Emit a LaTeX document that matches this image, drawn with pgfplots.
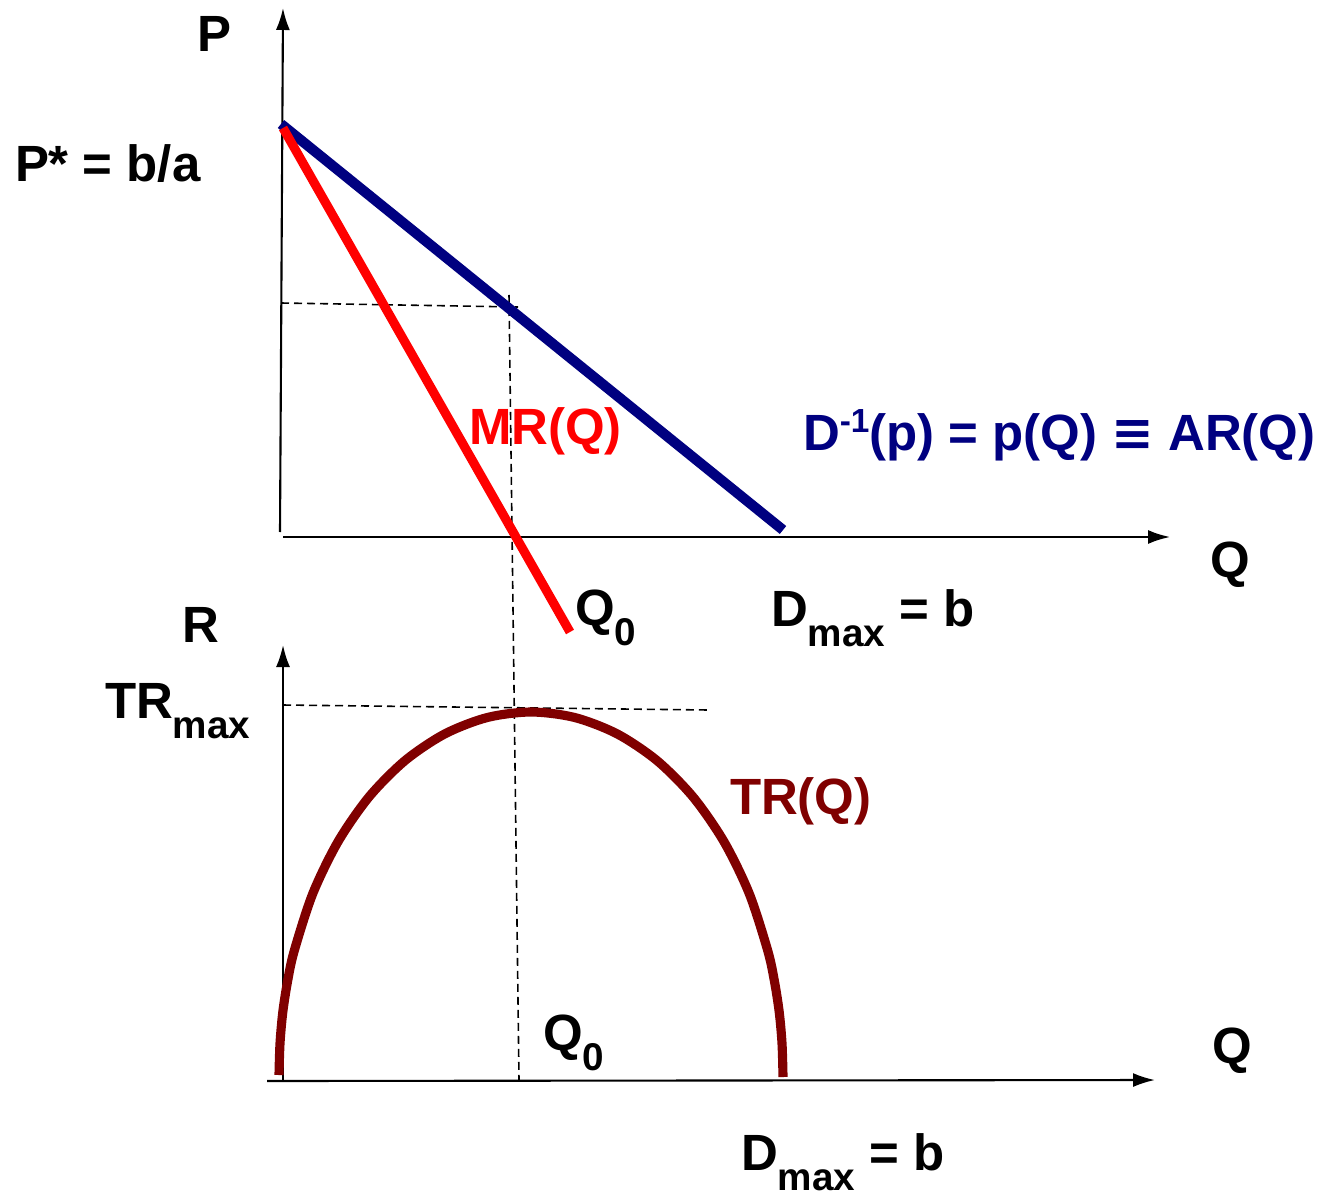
\documentclass[border=0pt]{standalone}
\usepackage{pgfplots}
\pgfplotsset{compat=1.18}
\usepackage{fontspec}
\setmainfont{Liberation Sans}
\newfontfamily\symfont{DejaVu Sans}
\usetikzlibrary{arrows.meta}

\definecolor{demandblue}{RGB}{0,0,128}
\definecolor{mrred}{RGB}{255,0,0}
\definecolor{trred}{RGB}{128,0,0}

\newcommand{\lbl}{\fontsize{14.5}{16}\selectfont\bfseries}
\newcommand{\sub}[1]{\raisebox{-5.7pt}{\fontsize{11}{12}\selectfont #1}}
\newcommand{\sups}[1]{\raisebox{5.3pt}{\fontsize{9.5}{10}\selectfont #1}}
\tikzset{lab/.style={inner sep=0pt, outer sep=0pt, anchor=base west}}

% Total revenue TR(Q), sampled along the arc
\pgfplotstableread{
x y
279.0 1075.0
280.0 1043.4
282.8 1012.0
287.6 981.1
294.2 950.9
312.8 893.5
338.0 841.7
369.0 796.9
405.0 760.6
444.8 733.9
487.3 717.5
531.0 712.0
574.7 717.5
617.2 733.9
657.0 760.6
693.0 796.9
724.0 841.7
749.2 893.5
767.8 950.9
774.4 981.1
779.2 1012.0
782.0 1043.4
783.0 1077.0
}\trcurve

\begin{document}
\begin{tikzpicture}
\begin{axis}[
  scale only axis,
  width=13.26cm, height=11.93cm,
  xmin=0, xmax=1326, ymin=0, ymax=1193,
  y dir=reverse,
  hide axis,
  clip=false,
]
\path (rel axis cs:0,0) rectangle (rel axis cs:1,1);

% upper panel: price axes
\addplot[black, line width=0.6pt, -{Latex[length=2.2mm,width=1.4mm]}] coordinates {(280,532) (283,8)};
\addplot[black, line width=0.6pt, -{Latex[length=2.2mm,width=1.4mm]}] coordinates {(283,537) (1170,537)};

% guide lines
\addplot[black, line width=0.45pt, dash pattern=on 0.8mm off 0.5mm] coordinates {(281,303) (518,307)};
\addplot[black, line width=0.45pt, dash pattern=on 0.8mm off 0.5mm] coordinates {(509,295) (519,1080)};
\addplot[black, line width=0.45pt, dash pattern=on 0.8mm off 0.5mm] coordinates {(283,705) (708,710)};

% demand (average revenue) and marginal revenue
\addplot[demandblue, line width=2.9pt] coordinates {(281,124) (783,530)};
\addplot[mrred, line width=2.6pt] coordinates {(283,128) (570,632)};

% lower panel: revenue axes
\addplot[black, line width=0.6pt, -{Latex[length=2.2mm,width=1.4mm]}] coordinates {(283,1080) (283,645)};
\addplot[black, line width=0.6pt, -{Latex[length=2.2mm,width=1.4mm]}] coordinates {(267,1081) (1155,1080)};

% total revenue
\addplot[trred, line width=2.6pt, smooth] table {\trcurve};

% labels
\node[lab] at (axis cs:197,52) {\lbl P};
\node[lab] at (axis cs:15,182) {\lbl P* = b/a};
\node[lab, text=mrred] at (axis cs:469,444) {\lbl MR(Q)};
\node[lab, text=demandblue] at (axis cs:803,451) {\lbl D\sups{-1}(p) = p(Q) {\symfont ≡} AR(Q)};
\node[lab] at (axis cs:1210,577) {\lbl Q};
\node[lab] at (axis cs:575,625) {\lbl Q\sub{0}};
\node[lab] at (axis cs:771,626) {\lbl D\sub{max} = b};
\node[lab] at (axis cs:182,642) {\lbl R};
\node[lab] at (axis cs:105,718) {\lbl TR\sub{max}};
\node[lab, text=trred] at (axis cs:730,814) {\lbl TR(Q)};
\node[lab] at (axis cs:543,1050) {\lbl Q\sub{0}};
\node[lab] at (axis cs:1212,1063) {\lbl Q};
\node[lab] at (axis cs:741,1170) {\lbl D\sub{max} = b};
\end{axis}
\end{tikzpicture}
\end{document}
